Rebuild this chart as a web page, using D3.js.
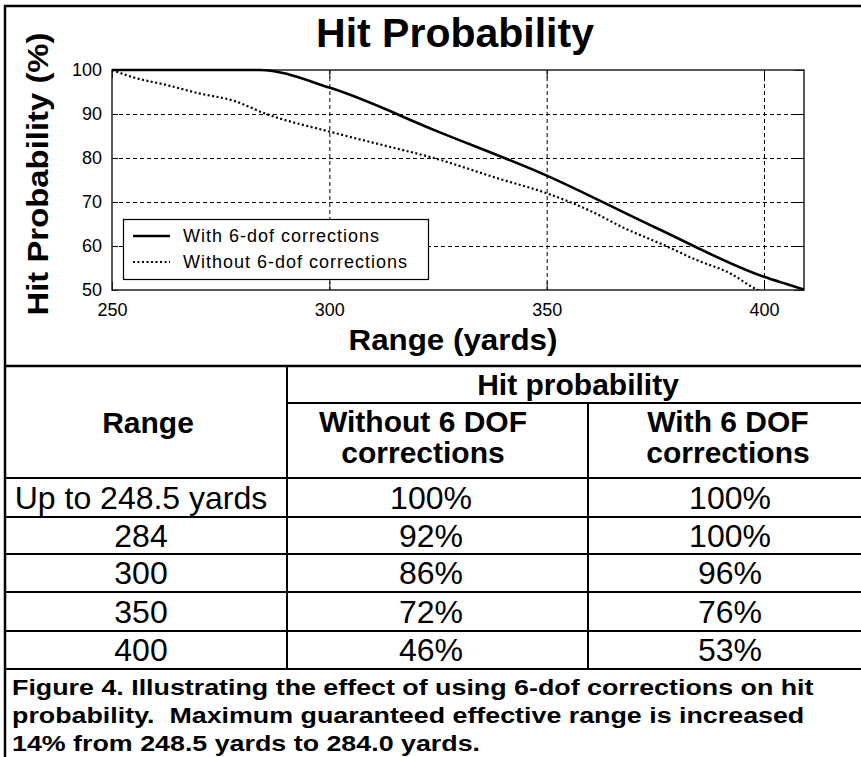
<!DOCTYPE html>
<html>
<head>
<meta charset="utf-8">
<script src="https://cdn.jsdelivr.net/npm/d3@7"></script>
<style>
  body { margin: 0; background: #fff; }
  text { font-family: "Liberation Sans", Arial, sans-serif; fill: #000; }
</style>
</head>
<body>
<div id="chart"></div>
<script>
// chart data
const xTicks = [250, 300, 350, 400];
const yTicks = [50, 60, 70, 80, 90, 100];
const withRange = [250, 284, 300, 325, 350, 375, 400, 405, 409.2];
const withHit = [100, 100, 96, 86, 76, 64.2, 53, 51.4, 50.1];
const withoutRange = [250, 255, 262.5, 270, 278, 285.5, 300, 312, 324, 339, 350, 360, 368, 377, 384.5, 392, 398, 402];
const withoutHit = [100, 98.3, 96.6, 94.7, 93, 90, 86, 83, 80, 75.3, 72, 68, 64, 60.2, 56.8, 53.9, 50.3, 48.6];
const legendLabels = ["With 6-dof corrections", "Without 6-dof corrections"];

// table data
const rangeCol = ["Up to 248.5 yards", "284", "300", "350", "400"];
const withoutCol = ["100%", "92%", "86%", "72%", "46%"];
const withCol = ["100%", "100%", "96%", "76%", "53%"];
const caption = [
  "Figure 4. Illustrating the effect of using 6-dof corrections on hit",
  "probability.  Maximum guaranteed effective range is increased",
  "14% from 248.5 yards to 284.0 yards."
];

const width = 861;
const height = 757;
const plot = { left: 112, top: 70, right: 804, bottom: 290 };

const svg = d3.select("#chart").append("svg")
  .attr("width", width)
  .attr("height", height);

const x = d3.scaleLinear().domain([250, 409.2]).range([plot.left, plot.right]);
const y = d3.scaleLinear().domain([50, 100]).range([plot.bottom, plot.top]);

// outer frame
svg.append("path")
  .attr("d", `M5,${height} V6 H${width}`)
  .attr("fill", "none").attr("stroke", "#000").attr("stroke-width", 2.5);

// titles
svg.append("text")
  .attr("x", 455).attr("y", 47)
  .attr("text-anchor", "middle")
  .style("font-size", "41px").style("font-weight", "bold")
  .text("Hit Probability");

svg.append("text")
  .attr("transform", "translate(48,174) rotate(-90)")
  .attr("text-anchor", "middle")
  .attr("textLength", 283).attr("lengthAdjust", "spacingAndGlyphs")
  .style("font-size", "29px").style("font-weight", "bold")
  .text("Hit Probability (%)");

svg.append("text")
  .attr("x", 453).attr("y", 350)
  .attr("text-anchor", "middle")
  .attr("textLength", 209).attr("lengthAdjust", "spacingAndGlyphs")
  .style("font-size", "30px").style("font-weight", "bold")
  .text("Range (yards)");

// grid
const grid = svg.append("g").attr("stroke", "#000").attr("stroke-dasharray", "4,3");
grid.selectAll("line.gx")
  .data(xTicks.filter((d) => d > 250))
  .enter().append("line")
  .attr("x1", (d) => x(d) + 0.5).attr("x2", (d) => x(d) + 0.5)
  .attr("y1", plot.top).attr("y2", plot.bottom);
grid.selectAll("line.gy")
  .data(yTicks.filter((d) => d > 50 && d < 100))
  .enter().append("line")
  .attr("y1", (d) => y(d) + 0.5).attr("y2", (d) => y(d) + 0.5)
  .attr("x1", plot.left).attr("x2", plot.right);

// axes with inward ticks
const axisFont = (g) => {
  g.select(".domain").remove();
  g.selectAll("text").style("font-size", "18px").style("font-family", "Liberation Sans, Arial, sans-serif").attr("fill", "#000");
  g.selectAll("line").attr("stroke", "#000");
};
svg.append("g")
  .attr("transform", `translate(0,${plot.bottom})`)
  .call(d3.axisBottom(x).tickValues(xTicks).tickSizeInner(-8).tickSizeOuter(0).tickPadding(13))
  .call(axisFont);
svg.append("g")
  .attr("transform", `translate(${plot.left},0)`)
  .call(d3.axisLeft(y).tickValues(yTicks).tickSizeInner(-6).tickSizeOuter(0).tickPadding(10))
  .call(axisFont);
svg.append("g")
  .attr("transform", `translate(0,${plot.top})`)
  .call(d3.axisTop(x).tickValues(xTicks).tickSizeInner(-8).tickSizeOuter(0).tickFormat(""))
  .call(axisFont);
svg.append("g")
  .attr("transform", `translate(${plot.right},0)`)
  .call(d3.axisRight(y).tickValues(yTicks).tickSizeInner(-10).tickSizeOuter(0).tickFormat(""))
  .call(axisFont);

svg.append("rect")
  .attr("x", plot.left).attr("y", plot.top)
  .attr("width", plot.right - plot.left).attr("height", plot.bottom - plot.top)
  .attr("fill", "none").attr("stroke", "#222").attr("stroke-width", 1.5);

// lines
svg.append("clipPath").attr("id", "clip")
  .append("rect")
  .attr("x", plot.left).attr("y", plot.top - 2)
  .attr("width", plot.right - plot.left).attr("height", plot.bottom - plot.top + 2);

const line = d3.line()
  .x((d) => x(d[0]))
  .y((d) => y(d[1]))
  .curve(d3.curveMonotoneX);

svg.append("path")
  .datum(withoutRange.map((r, i) => [r, withoutHit[i]]))
  .attr("clip-path", "url(#clip)")
  .attr("d", line)
  .attr("fill", "none").attr("stroke", "#000").attr("stroke-width", 2.2)
  .attr("stroke-dasharray", "2,2.5");

svg.append("path")
  .datum(withRange.map((r, i) => [r, withHit[i]]))
  .attr("clip-path", "url(#clip)")
  .attr("d", line)
  .attr("fill", "none").attr("stroke", "#000").attr("stroke-width", 2.6);

// legend
const legend = svg.append("g");
legend.append("rect")
  .attr("x", 123.5).attr("y", 219.5).attr("width", 305).attr("height", 60)
  .attr("fill", "#fff").attr("stroke", "#000").attr("stroke-width", 1.2);
legendLabels.forEach((label, i) => {
  const cy = 236 + i * 26;
  legend.append("line")
    .attr("x1", 133).attr("x2", 170).attr("y1", cy).attr("y2", cy)
    .attr("stroke", "#000").attr("stroke-width", i === 0 ? 2.6 : 2.2)
    .attr("stroke-dasharray", i === 0 ? null : "2,2.5");
  legend.append("text")
    .attr("x", 183).attr("y", cy + 6)
    .style("font-size", "18px").style("letter-spacing", "1px")
    .text(label);
});

// table
const rowLines = [478, 517, 554, 592, 631, 669];
const tbl = svg.append("g").attr("stroke", "#000").attr("stroke-width", 2);
tbl.append("line").attr("x1", 5).attr("x2", width).attr("y1", 366).attr("y2", 366).attr("stroke-width", 2.5);
tbl.append("line").attr("x1", 287).attr("x2", 287).attr("y1", 366).attr("y2", 669);
tbl.append("line").attr("x1", 588).attr("x2", 588).attr("y1", 403).attr("y2", 669);
tbl.append("line").attr("x1", 287).attr("x2", width).attr("y1", 403).attr("y2", 403);
tbl.selectAll("line.row")
  .data(rowLines)
  .enter().append("line")
  .attr("x1", 5).attr("x2", width)
  .attr("y1", (d) => d).attr("y2", (d) => d);

const head = svg.append("g").style("font-weight", "bold").style("font-size", "30px").attr("text-anchor", "middle");
head.append("text").attr("x", 578).attr("y", 395).text("Hit probability");
head.append("text").attr("x", 148).attr("y", 433).text("Range");
head.append("text").attr("x", 423).attr("y", 432).text("Without 6 DOF");
head.append("text").attr("x", 423).attr("y", 463).text("corrections");
head.append("text").attr("x", 728).attr("y", 432).text("With 6 DOF");
head.append("text").attr("x", 728).attr("y", 463).text("corrections");

const body = svg.append("g").style("font-size", "32px").attr("text-anchor", "middle");
rangeCol.forEach((r, i) => {
  const by = (rowLines[i] + rowLines[i + 1]) / 2 + 11;
  body.append("text").attr("x", 141).attr("y", by).text(r);
  body.append("text").attr("x", 431).attr("y", by).text(withoutCol[i]);
  body.append("text").attr("x", 730).attr("y", by).text(withCol[i]);
});

// caption is wider than the plain bold face, so stretch it horizontally
const cap = svg.append("g")
  .attr("transform", "translate(12,0) scale(1.22,1)")
  .style("font-weight", "bold").style("font-size", "22px");
caption.forEach((c, i) => {
  cap.append("text")
    .attr("xml:space", "preserve")
    .style("white-space", "pre")
    .attr("x", 0).attr("y", 695 + i * 28)
    .text(c);
});
</script>
</body>
</html>
